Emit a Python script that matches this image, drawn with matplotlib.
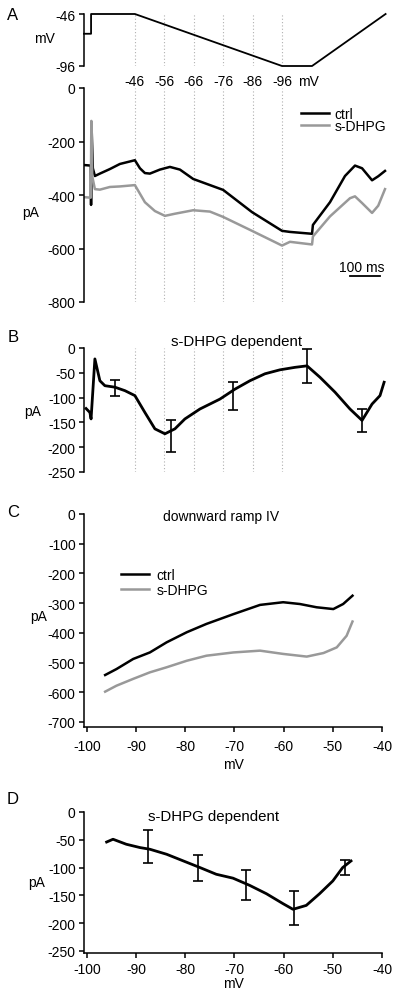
#!/usr/bin/env python3
"""
Ramp protocol figure: s-DHPG vs ctrl currents and IV curves (panels A-D).
"""

import matplotlib
matplotlib.use('Agg')
import matplotlib.pyplot as plt
import matplotlib.transforms as mtransforms
import numpy as np

plt.rcParams['font.family'] = ['Liberation Sans', 'DejaVu Sans']
plt.rcParams['font.size'] = 10
plt.rcParams['axes.unicode_minus'] = False

# ---- data ----
# A: voltage protocol (ms, mV)
proto_t = [0, 24, 24, 173, 673, 775, 1025]
proto_v = [-65, -65, -46, -46, -96, -96, -46]
ramp_labels_mv = [-46, -56, -66, -76, -86, -96]
ramp_start_ms = 173
ramp_ms_per_mv = 10

# A: currents (ms, pA)
ctrl_t = [0, 23, 24, 26, 30, 37, 54, 88, 122, 173, 190, 207, 224, 258, 292, 326,
          371, 473, 571, 673, 700, 775, 778, 836, 887, 921, 945, 979, 1000, 1023]
ctrl_i = [-288, -290, -437, -153, -300, -329, -320, -303, -284, -270, -300, -318,
          -320, -305, -295, -305, -340, -381, -464, -534, -538, -545, -512, -427,
          -329, -290, -300, -345, -330, -310]
dhpg_t = [0, 23, 25, 28, 37, 54, 88, 122, 173, 207, 241, 275, 309, 371, 428, 473,
          571, 673, 700, 775, 778, 836, 904, 921, 945, 979, 1000, 1023]
dhpg_i = [-408, -410, -123, -330, -378, -380, -370, -368, -363, -427, -460, -478,
          -470, -457, -462, -482, -534, -589, -575, -585, -555, -480, -412, -405,
          -430, -467, -440, -378]

# B: s-DHPG dependent current vs time
diff_t = [7, 20, 24, 37, 54, 71, 105, 139, 173, 207, 241, 275, 309, 343, 394, 462,
          513, 564, 615, 666, 717, 758, 802, 853, 904, 945, 979, 1006, 1020]
diff_i = [-122, -130, -143, -22, -66, -76, -79, -86, -96, -130, -163, -173, -163,
          -143, -123, -103, -83, -66, -52, -44, -39, -36, -59, -89, -123, -146,
          -113, -96, -69]
diff_err_t = [105, 296, 507, 758, 945]
diff_err_i = [-80, -177, -97, -37, -146]
diff_err = [16, 32, 28, 34, 24]

# C: downward ramp IV (mV, pA)
iv_ctrl_v = [-96.3, -94, -90.6, -87.2, -83.8, -79.7, -75.7, -70.2, -64.8, -60.1,
             -56.7, -53.3, -49.9, -47.9, -46]
iv_ctrl_i = [-542, -522, -488, -466, -432, -398, -370, -337, -306, -297, -303,
             -314, -320, -303, -275]
iv_dhpg_v = [-96.3, -94, -90.6, -87.2, -83.8, -79.7, -75.7, -70.2, -64.8, -60.1,
             -55.3, -51.9, -49.2, -47.2, -46]
iv_dhpg_i = [-598, -578, -555, -533, -516, -494, -477, -466, -460, -471, -480,
             -468, -449, -410, -362]

# D: s-DHPG dependent IV
div_v = [-96, -94.7, -92, -89.2, -87.2, -83.8, -80.4, -77, -73.7, -70.3, -66.9,
         -63.5, -60.1, -58.1, -55.4, -52.7, -50, -48, -46.3]
div_i = [-54, -49, -58, -64, -67, -76, -88, -100, -112, -119, -132, -147, -165,
         -175, -168, -147, -124, -100, -88]
div_err_v = [-87.5, -77.5, -67.6, -57.8, -47.6]
div_err_i = [-62, -101, -132, -173, -100]
div_err = [29, 24, 27, 31, 14]

W, H = 400, 1003
fig = plt.figure(figsize=(W / 100, H / 100), dpi=100)


def px_axes(l, t, r, b):
    return fig.add_axes([l / W, 1 - b / H, (r - l) / W, (b - t) / H])


def style(ax, bottom=False):
    for s in ['top', 'right']:
        ax.spines[s].set_visible(False)
    ax.spines['bottom'].set_visible(bottom)
    for s in ['left', 'bottom']:
        ax.spines[s].set_linewidth(1.1)
    ax.tick_params(direction='out', length=3.5, width=1.1, pad=2.5, labelsize=10)
    if not bottom:
        ax.set_xticks([])


ramp_times = [ramp_start_ms + (-46 - v) * ramp_ms_per_mv for v in ramp_labels_mv]
TLIM = (0, 1040)
dot_kw = dict(color='#b0b0b0', lw=0.8, ls=(0, (1, 2)), zorder=0)

# ---- A: protocol ----
axv = px_axes(84, 15, 390, 67)
style(axv)
axv.plot(proto_t, proto_v, color='black', lw=1.3, clip_on=False)
axv.set_xlim(*TLIM)
axv.set_ylim(-96, -46)
axv.set_yticks([-46, -96])
axv.set_ylabel('mV', rotation=0, va='center', ha='center')
axv.yaxis.set_label_coords(-40 / 306, 0.53)
for t in ramp_times:
    axv.axvline(t, ymin=0, ymax=1, **dot_kw)
trans = mtransforms.blended_transform_factory(axv.transData, axv.transAxes)
for t, v in zip(ramp_times, ramp_labels_mv):
    axv.text(t, -0.29, str(v), transform=trans, ha='center', va='center', fontsize=10)
axv.text(ramp_times[-1] + 90, -0.29, 'mV', transform=trans, ha='center', va='center',
         fontsize=10)

# ---- A: currents ----
axa = px_axes(84, 89, 390, 303)
style(axa)
for t in ramp_times:
    axa.axvline(t, **dot_kw)
axa.plot(ctrl_t, ctrl_i, color='black', lw=1.8, label='ctrl')
axa.plot(dhpg_t, dhpg_i, color='#999999', lw=1.8, label='s-DHPG')
axa.set_xlim(*TLIM)
axa.set_ylim(-800, 0)
axa.set_yticks([0, -200, -400, -600, -800])
axa.set_ylabel('pA', rotation=0, va='center', ha='center')
axa.yaxis.set_label_coords(-53 / 306, 0.42)
axa.legend(loc='upper left', bbox_to_anchor=(294 / W, 1 - 101 / H),
           bbox_transform=fig.transFigure, frameon=False, borderpad=0,
           handlelength=2.0, handletextpad=0.4, labelspacing=-0.15, fontsize=10)
axa.plot([905, 1005], [-703, -703], color='black', lw=1.3)
axa.text(945, -668, '100 ms', ha='center', va='center', fontsize=10)

# ---- B ----
axb = px_axes(84, 349, 390, 473)
style(axb)
for t in ramp_times:
    axb.axvline(t, **dot_kw)
axb.plot(diff_t, diff_i, color='black', lw=2.0)
axb.errorbar(diff_err_t, diff_err_i, yerr=diff_err, fmt='none', ecolor='black',
             elinewidth=1.2, capsize=3.5, capthick=1.2)
axb.set_xlim(*TLIM)
axb.set_ylim(-250, 0)
axb.set_yticks([0, -50, -100, -150, -200, -250])
axb.set_ylabel('pA', rotation=0, va='center', ha='center')
axb.yaxis.set_label_coords(-51 / 306, 0.49)
axb.set_title('s-DHPG dependent', fontsize=10.8, pad=-1)

# ---- C ----
axc = px_axes(84, 515, 382, 728)
style(axc, bottom=True)
axc.plot(iv_ctrl_v, iv_ctrl_i, color='black', lw=1.8, label='ctrl')
axc.plot(iv_dhpg_v, iv_dhpg_i, color='#999999', lw=1.8, label='s-DHPG')
axc.set_xlim(-100.6, -40)
axc.set_ylim(-717, 0)
axc.set_yticks(np.arange(0, -701, -100))
axc.set_xticks(np.arange(-100, -39, 10))
axc.tick_params(axis='x', pad=5)
axc.set_xlabel('mV', labelpad=3)
axc.set_ylabel('pA', rotation=0, va='center', ha='center')
axc.yaxis.set_label_coords(-45 / 298, 0.52)
axc.text(0.46, 0.99, 'downward ramp IV', transform=axc.transAxes, ha='center',
         va='center', fontsize=10)
axc.legend(loc='upper left', bbox_to_anchor=(114 / W, 1 - 562 / H),
           bbox_transform=fig.transFigure, frameon=False, borderpad=0,
           handlelength=2.0, handletextpad=0.55, labelspacing=0.05, fontsize=10)

# ---- D ----
axd = px_axes(84, 813, 382, 954)
style(axd, bottom=True)
axd.plot(div_v, div_i, color='black', lw=2.0)
axd.errorbar(div_err_v, div_err_i, yerr=div_err, fmt='none', ecolor='black',
             elinewidth=1.2, capsize=3.5, capthick=1.2)
axd.set_xlim(-100.6, -40)
axd.set_ylim(-253.6, 0)
axd.set_yticks([0, -50, -100, -150, -200, -250])
axd.set_xticks(np.arange(-100, -39, 10))
axd.tick_params(axis='x', pad=3)
axd.set_xlabel('mV', labelpad=0)
axd.set_ylabel('pA', rotation=0, va='center', ha='center')
axd.yaxis.set_label_coords(-47 / 298, 0.5)
axd.text(0.435, 0.97, 's-DHPG dependent', transform=axd.transAxes, ha='center',
         va='center', fontsize=10.8)

# panel letters
for letter, y in [('A', 15), ('B', 337), ('C', 513), ('D', 800)]:
    fig.text(13 / W, 1 - y / H, letter, ha='center', va='center', fontsize=12)

fig.savefig('out.png', dpi=100)
plt.close(fig)
